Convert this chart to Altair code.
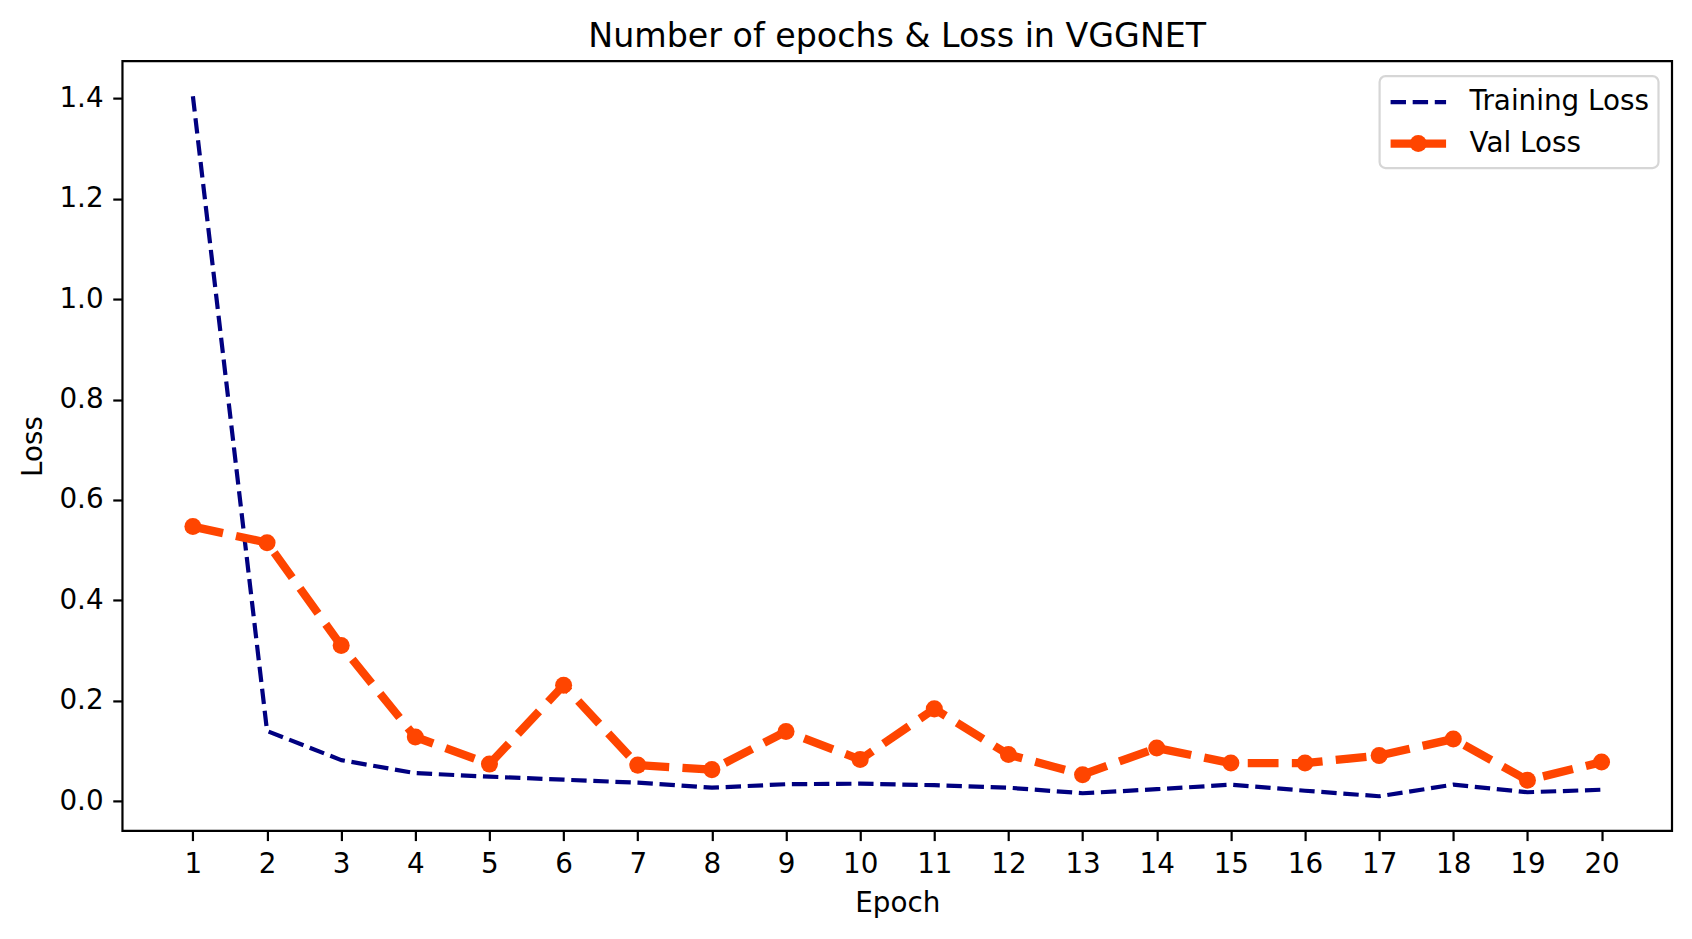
import altair as alt
import pandas as pd

# ---- data ----
epochs = list(range(1, 21))
train_loss = [1.404, 0.140, 0.082, 0.056, 0.049, 0.043, 0.037, 0.027, 0.034, 0.035,
              0.032, 0.027, 0.016, 0.024, 0.033, 0.021, 0.010, 0.033, 0.018, 0.023]
val_loss = [0.547, 0.515, 0.310, 0.128, 0.074, 0.231, 0.072, 0.063, 0.139, 0.083,
            0.184, 0.093, 0.053, 0.106, 0.076, 0.076, 0.091, 0.124, 0.042, 0.078]
series_names = ["Training Loss", "Val Loss"]
series_colors = ["#000080", "#FF4500"]
y_ticks = [0.0, 0.2, 0.4, 0.6, 0.8, 1.0, 1.2, 1.4]
title_text = "Number of epochs & Loss in VGGNET"

# ---- styles ----
train_dash = [15.4, 6.7]
val_dash = [30.8, 13.3]
line_widths = [4.2, 8.3]
FONT = "DejaVu Sans"
FS = 27.8
W, H = 1550, 770

df = pd.DataFrame({
    "Epoch": epochs * 2,
    "Loss": train_loss + val_loss,
    "Series": [series_names[0]] * len(epochs) + [series_names[1]] * len(epochs),
})

x_scale = alt.Scale(domain=[0.05, 20.95], nice=False, zero=False)
y_scale = alt.Scale(domain=[-0.059, 1.474], nice=False, zero=False)

x_enc = alt.X("Epoch:Q", scale=x_scale,
              axis=alt.Axis(title="Epoch", values=epochs, format="d", grid=False, domain=False,
                            tickColor="black", tickWidth=2.2, tickSize=9.7, labelPadding=9.7,
                            labelFont=FONT, labelFontSize=FS, labelColor="black",
                            titleFont=FONT, titleFontSize=FS, titleFontWeight="normal",
                            titleColor="black", titlePadding=11, labelFlush=False))
y_enc = alt.Y("Loss:Q", scale=y_scale,
              axis=alt.Axis(title="Loss", values=y_ticks, format=".1f", grid=False, domain=False,
                            tickColor="black", tickWidth=2.2, tickSize=9.7, labelPadding=9.7,
                            labelFont=FONT, labelFontSize=FS, labelColor="black",
                            titleFont=FONT, titleFontSize=FS, titleFontWeight="normal",
                            titleColor="black", titlePadding=11, labelFlush=False))

color_enc = alt.Color("Series:N", scale=alt.Scale(domain=series_names, range=series_colors), legend=None)
dash_enc = alt.StrokeDash("Series:N", scale=alt.Scale(domain=series_names, range=[train_dash, val_dash]), legend=None)
width_enc = alt.StrokeWidth("Series:N", scale=alt.Scale(domain=series_names, range=line_widths), legend=None)

lines = alt.Chart(df).mark_line(strokeCap="butt", strokeJoin="round").encode(
    x=x_enc, y=y_enc, color=color_enc, strokeDash=dash_enc, strokeWidth=width_enc,
    order=alt.Order("Epoch:Q"),
)

points = alt.Chart(df).transform_filter(
    alt.datum.Series == series_names[1]
).mark_circle(size=290, opacity=1, color=series_colors[1]).encode(
    x=alt.X("Epoch:Q", scale=x_scale),
    y=alt.Y("Loss:Q", scale=y_scale),
)

# ---- title as a text mark above the plot ----
title_df = pd.DataFrame({"t": [title_text]})
title = alt.Chart(title_df).mark_text(
    align="center", baseline="alphabetic", font=FONT, fontSize=33.3, color="black"
).encode(x=alt.value(W / 2), y=alt.value(-14.5), text="t:N")

# ---- legend (matplotlib-style box in the upper right) ----
leg_df = pd.DataFrame({"label": series_names})
box = alt.Chart(leg_df).transform_filter(alt.datum.label == series_names[0]).mark_rect(
    fill="white", fillOpacity=0.8, stroke="#d6d6d6", strokeWidth=2.2, cornerRadius=6
).encode(x=alt.value(1257.5), x2=alt.value(1536.5), y=alt.value(15), y2=alt.value(107))

leg_layers = [box]
row_y = [41, 82.5]
for i, name in enumerate(series_names):
    sub = alt.Chart(leg_df).transform_filter(alt.datum.label == name)
    dash = train_dash if i == 0 else [1, 0]
    leg_layers.append(
        sub.mark_rule(color=series_colors[i], strokeWidth=line_widths[i], strokeDash=dash,
                      strokeCap="butt").encode(
            x=alt.value(1268.5), x2=alt.value(1324), y=alt.value(row_y[i]))
    )
    if i == 1:
        leg_layers.append(
            sub.mark_circle(size=290, opacity=1, color=series_colors[i]).encode(
                x=alt.value(1296.2), y=alt.value(row_y[i]))
        )
    leg_layers.append(
        sub.mark_text(align="left", baseline="middle", font=FONT, fontSize=FS, color="black").encode(
            x=alt.value(1347.5), y=alt.value(row_y[i]), text="label:N")
    )

chart = alt.layer(lines, points, title, *leg_layers).properties(
    width=W,
    height=H,
    autosize=alt.AutoSizeParams(type="none"),
    padding={"left": 114.5, "top": 53, "right": 12, "bottom": 100},
).configure(
    background="white"
).configure_view(
    stroke="black", strokeWidth=2.2
)

chart.save("out.html", embed_options={"renderer": "svg", "actions": False})
